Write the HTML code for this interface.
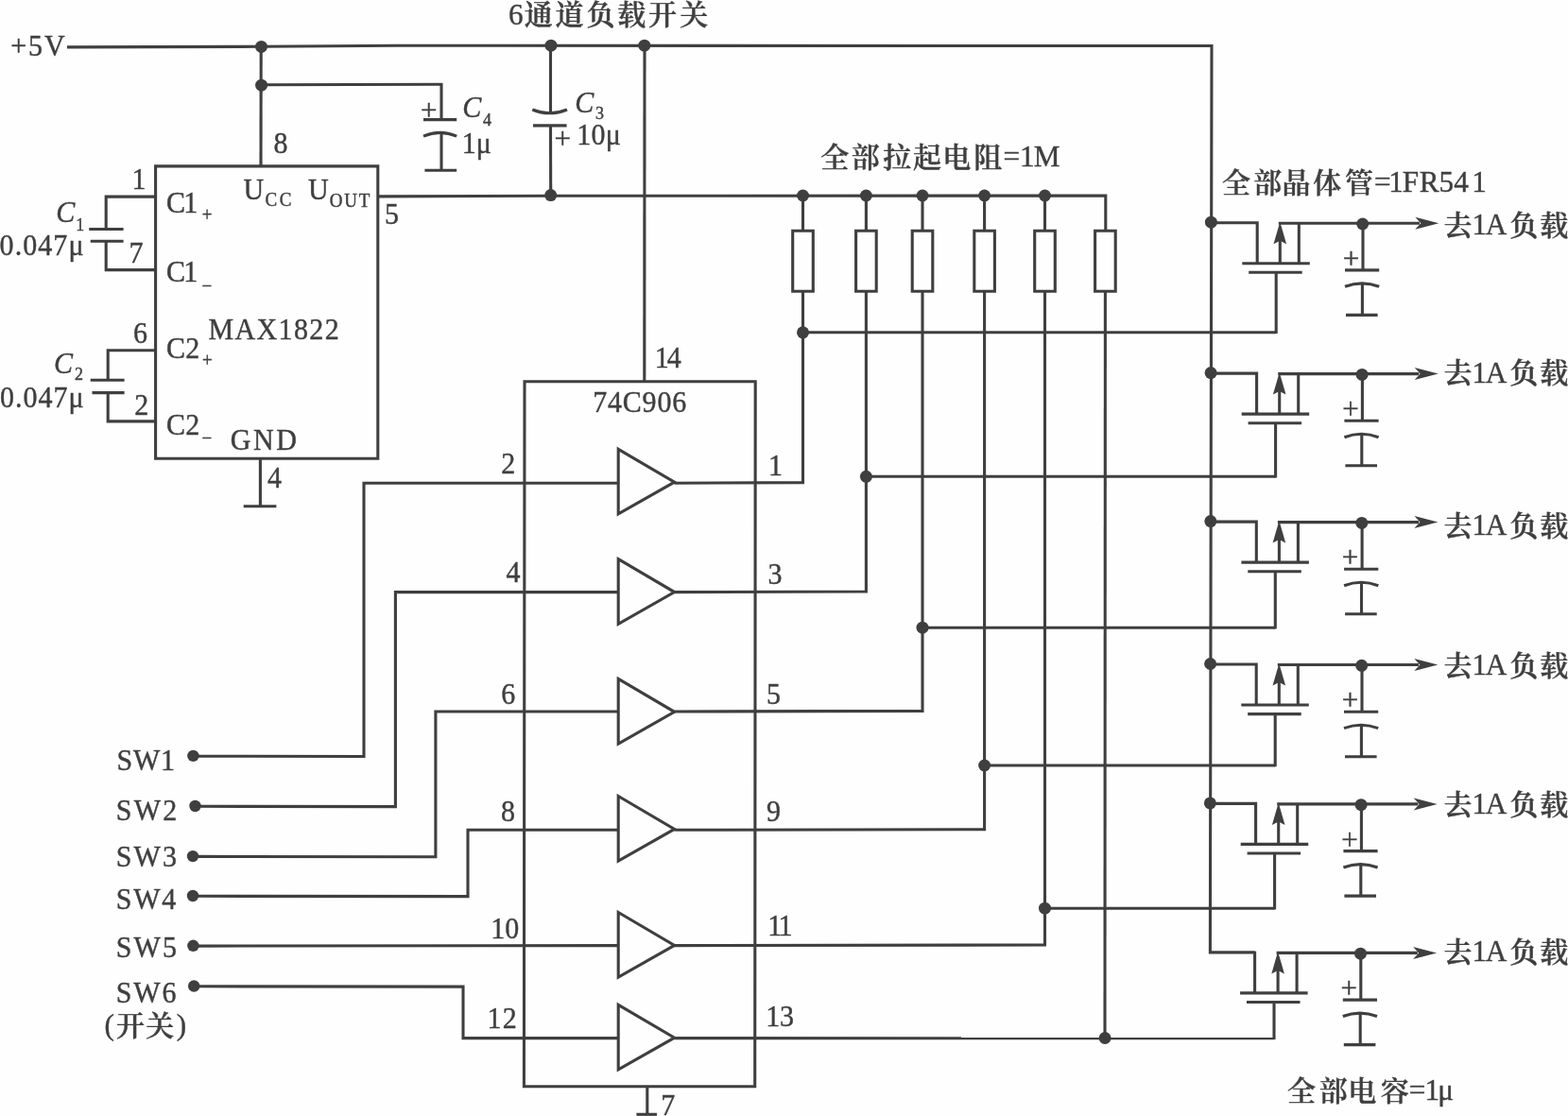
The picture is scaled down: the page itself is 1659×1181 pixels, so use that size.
<!DOCTYPE html>
<html lang="zh">
<head>
<meta charset="utf-8">
<title>6通道负载开关</title>
<style>
html,body{margin:0;padding:0;background:#fff;}
body{width:1659px;height:1181px;overflow:hidden;}
svg{display:block;will-change:transform;filter:blur(0.35px);}
svg path{fill:none;stroke:#3f3f3f;stroke-width:3.1;stroke-linecap:butt;stroke-linejoin:miter;}
svg path.th{stroke-width:1.7;}
svg .f{fill:#3f3f3f;stroke:none;}
svg text{font-family:"Liberation Serif","Noto Serif CJK SC",serif;font-size:30px;fill:#3f3f3f;stroke:#3f3f3f;stroke-width:0.4;}
svg .i{font-style:italic;}
svg .n{font-style:normal;}
svg .c{font-weight:600;}
svg .l{font-size:31.2px;}
</style>
</head>
<body>
<svg width="1659" height="1181" viewBox="0 0 1659 1181">
<rect x="0" y="0" width="1659" height="1181" fill="#fefefe"/>
<path d="M71 49.9 L276.5 49.3 L420 48.3 L1282 48.5 L1280.4 1007.9 L1327.6 1007.9"/>
<circle cx="276.5" cy="49.4" r="6.5" class="f"/>
<circle cx="276.6" cy="90.2" r="6.5" class="f"/>
<circle cx="583" cy="48.2" r="6.5" class="f"/>
<circle cx="681.8" cy="48.2" r="6.5" class="f"/>
<circle cx="582.7" cy="206.6" r="6.5" class="f"/>
<path d="M276.2 49.4 L276 175.4"/>
<path d="M276.5 89.8 L468 89.2"/>
<path d="M467 88 L467 126.6"/>
<path d="M448 126.6 L483.2 126.6"/>
<path d="M448 144.2 Q465.5 136.6 483.2 144.2"/>
<path d="M467 140.6 L467 180.3"/>
<path d="M449.4 180.3 L483.2 180.3"/>
<path d="M582.5 48.2 L582.5 119"/>
<path d="M563.3 116 Q581.5 123.6 600 116"/>
<path d="M564 132.9 L599.6 132.9"/>
<path d="M582.5 132.9 L582.7 207"/>
<path d="M682 48.3 L681.8 403.8"/>
<path d="M164.6 175.9 H399.8 V485.2 H164.6 Z"/>
<path d="M399.8 207.9 L582 207.3 L1169.8 207 L1169.8 244.2"/>
<path d="M164.6 208.1 L112.2 208.1 L112.2 242.5"/>
<path d="M94.2 242.5 L130.6 242.5"/>
<path d="M95.7 255.2 L130.6 255.2"/>
<path d="M112.2 255.2 L112.2 285.6 L164.6 285.6"/>
<path d="M164.6 370.8 L114.2 370.8 L114.2 402.2"/>
<path d="M95.7 402.2 L131.6 402.2"/>
<path d="M97.5 415.6 L131.6 415.6"/>
<path d="M114.2 415.6 L114.2 445.9 L164.6 445.9"/>
<path d="M275.4 485.2 L275.4 535.8"/>
<path d="M257.7 535.8 L292.4 535.8"/>
<path d="M555 403.8 H799.2 L798.7 1149.8 H554.4 Z"/>
<path d="M684.8 1149.8 L684.8 1179.5"/>
<path d="M673.4 1179.3 L695 1179.3"/>
<path d="M654.2 475.3 L713.6 510.2 L654.2 543.9 Z"/>
<path d="M654.2 591.7 L713.6 626.6 L654.2 660.3 Z"/>
<path d="M654.2 718.4 L713.6 753.3 L654.2 787 Z"/>
<path d="M654.2 842.5 L713.6 877.4 L654.2 911.1 Z"/>
<path d="M654.2 965.5 L713.6 1000.4 L654.2 1034.1 Z"/>
<path d="M654.2 1063.3 L713.6 1098.2 L654.2 1131.9 Z"/>
<circle cx="204.4" cy="799.9" r="6.2" class="f"/>
<path d="M204.4 800.2 L385 800.5 L385 511.2 L654.2 511.2"/>
<circle cx="206.5" cy="853" r="6.2" class="f"/>
<path d="M206.5 853.3 L418.4 853.6 L418.4 626.6 L654.2 626.6"/>
<circle cx="204" cy="906.1" r="6.2" class="f"/>
<path d="M204 906.4 L460.9 906.7 L460.9 753 L654.2 753"/>
<circle cx="204" cy="948" r="6.2" class="f"/>
<path d="M204 948.3 L495 948.6 L495 878.3 L654.2 878.3"/>
<circle cx="204.4" cy="1000.8" r="6.2" class="f"/>
<path d="M204.4 1001.1 L654.2 1000.6"/>
<circle cx="205.2" cy="1043.5" r="6.2" class="f"/>
<path d="M205.2 1043.8 L490 1044.1 L490 1098.6 L654.2 1098.6"/>
<circle cx="849.5" cy="207" r="6.5" class="f"/>
<path d="M849.5 207 L849.5 244.2"/>
<path d="M838.7 244.2 H860.3 V308.2 H838.7 Z"/>
<circle cx="916.4" cy="207" r="6.5" class="f"/>
<path d="M916.4 207 L916.4 244.2"/>
<path d="M905.6 244.2 H927.2 V308.2 H905.6 Z"/>
<circle cx="976" cy="207" r="6.5" class="f"/>
<path d="M976 207 L976 244.2"/>
<path d="M965.2 244.2 H986.8 V308.2 H965.2 Z"/>
<circle cx="1041.6" cy="207" r="6.5" class="f"/>
<path d="M1041.6 207 L1041.6 244.2"/>
<path d="M1030.8 244.2 H1052.4 V308.2 H1030.8 Z"/>
<circle cx="1105.5" cy="207" r="6.5" class="f"/>
<path d="M1105.5 207 L1105.5 244.2"/>
<path d="M1094.7 244.2 H1116.3 V308.2 H1094.7 Z"/>
<path d="M1158.6 244.2 H1180.2 V308.2 H1158.6 Z"/>
<path d="M713.6 511.2 L849.5 510.6 L849.5 308.2"/>
<path d="M849.5 351.8 L1350.2 351.8"/>
<circle cx="849.5" cy="351.8" r="6.5" class="f"/>
<path d="M713.6 626.6 L916.4 626 L916.4 308.2"/>
<path d="M916.4 504.3 L1349.6 504.3"/>
<circle cx="916.4" cy="504.3" r="6.5" class="f"/>
<path d="M713.6 753 L976 752.4 L976 308.2"/>
<path d="M976 664.2 L1349.3 664.2"/>
<circle cx="976" cy="664.2" r="6.5" class="f"/>
<path d="M713.6 878.3 L1041.6 877.7 L1041.6 308.2"/>
<path d="M1041.6 810 L1349.2 810"/>
<circle cx="1041.6" cy="810" r="6.5" class="f"/>
<path d="M713.6 1000.6 L1105.5 1000 L1105.5 308.2"/>
<path d="M1105.5 961.2 L1348.6 961.2"/>
<circle cx="1105.5" cy="961.2" r="6.5" class="f"/>
<path d="M1169.4 308.2 L1169 1098.8"/>
<path d="M713.6 1098.6 L1348 1098.8"/>
<circle cx="1169.1" cy="1098.5" r="6.5" class="f"/>
<circle cx="1281.39" cy="235.2" r="6.5" class="f"/>
<path d="M1281.69 235.7 L1330.2 235.7 L1330.2 278.7"/>
<path d="M1314.3 278.7 L1385.8 278.7"/>
<path d="M1321.2 288.3 L1377.7 288.3"/>
<path d="M1350.2 288.3 L1350.2 353"/>
<path d="M1354.3 278.7 L1354.3 243.7"/>
<path d="M1354.3 234.7 L1361.1 258.2 L1354.3 254.7 L1347.5 258.2 Z" class="f"/>
<path d="M1374.3 236.2 L1374.3 278.7"/>
<path d="M1352.8 236.2 L1502 236.2"/>
<path d="M1522.3 236.2 L1497.3 229.7 L1503.3 236.2 L1497.3 242.7 Z" class="f"/>
<circle cx="1441.7" cy="237" r="6.5" class="f"/>
<path d="M1442 236.2 L1442 285.9"/>
<path d="M1423 285.9 L1459.2 285.9"/>
<path d="M1423 303.3 Q1441 296.5 1459.2 303.3"/>
<path d="M1441.4 300.1 L1441.4 333.4"/>
<path d="M1424 333.4 L1457.6 333.4"/>
<text transform="scale(1,1.05)" x="1420.74" y="270.52" class="t" style="font-size:31px">+</text>
<circle cx="1281.12" cy="394.6" r="6.5" class="f"/>
<path d="M1281.42 395.1 L1329.6 395.1 L1329.6 438.1"/>
<path d="M1313.7 438.1 L1385.2 438.1"/>
<path d="M1320.6 447.7 L1377.1 447.7"/>
<path d="M1349.6 447.7 L1349.6 505.5"/>
<path d="M1353.7 438.1 L1353.7 403.1"/>
<path d="M1353.7 394.1 L1360.5 417.6 L1353.7 414.1 L1346.9 417.6 Z" class="f"/>
<path d="M1373.7 395.6 L1373.7 438.1"/>
<path d="M1352.2 395.6 L1501.4 395.6"/>
<path d="M1521.7 395.6 L1496.7 389.1 L1502.7 395.6 L1496.7 402.1 Z" class="f"/>
<circle cx="1441.1" cy="396.4" r="6.5" class="f"/>
<path d="M1441.4 395.6 L1441.4 445.3"/>
<path d="M1422.4 445.3 L1458.6 445.3"/>
<path d="M1422.4 462.7 Q1440.4 455.9 1458.6 462.7"/>
<path d="M1440.8 459.5 L1440.8 492.8"/>
<path d="M1423.4 492.8 L1457 492.8"/>
<text transform="scale(1,1.05)" x="1420.14" y="422.33" class="t" style="font-size:31px">+</text>
<circle cx="1280.86" cy="551.6" r="6.5" class="f"/>
<path d="M1281.16 552.1 L1329.3 552.1 L1329.3 595.1"/>
<path d="M1313.4 595.1 L1384.9 595.1"/>
<path d="M1320.3 604.7 L1376.8 604.7"/>
<path d="M1349.3 604.7 L1349.3 665.4"/>
<path d="M1353.4 595.1 L1353.4 560.1"/>
<path d="M1353.4 551.1 L1360.2 574.6 L1353.4 571.1 L1346.6 574.6 Z" class="f"/>
<path d="M1373.4 552.6 L1373.4 595.1"/>
<path d="M1351.9 552.6 L1501.1 552.6"/>
<path d="M1521.4 552.6 L1496.4 546.1 L1502.4 552.6 L1496.4 559.1 Z" class="f"/>
<circle cx="1440.8" cy="553.4" r="6.5" class="f"/>
<path d="M1441.1 552.6 L1441.1 602.3"/>
<path d="M1422.1 602.3 L1458.3 602.3"/>
<path d="M1422.1 619.7 Q1440.1 612.9 1458.3 619.7"/>
<path d="M1440.5 616.5 L1440.5 649.8"/>
<path d="M1423.1 649.8 L1456.7 649.8"/>
<text transform="scale(1,1.05)" x="1419.84" y="571.85" class="t" style="font-size:31px">+</text>
<circle cx="1280.61" cy="702.5" r="6.5" class="f"/>
<path d="M1280.91 703 L1329.2 703 L1329.2 746"/>
<path d="M1313.3 746 L1384.8 746"/>
<path d="M1320.2 755.6 L1376.7 755.6"/>
<path d="M1349.2 755.6 L1349.2 811.2"/>
<path d="M1353.3 746 L1353.3 711"/>
<path d="M1353.3 702 L1360.1 725.5 L1353.3 722 L1346.5 725.5 Z" class="f"/>
<path d="M1373.3 703.5 L1373.3 746"/>
<path d="M1351.8 703.5 L1501 703.5"/>
<path d="M1521.3 703.5 L1496.3 697 L1502.3 703.5 L1496.3 710 Z" class="f"/>
<circle cx="1440.7" cy="704.3" r="6.5" class="f"/>
<path d="M1441 703.5 L1441 753.2"/>
<path d="M1422 753.2 L1458.2 753.2"/>
<path d="M1422 770.6 Q1440 763.8 1458.2 770.6"/>
<path d="M1440.4 767.4 L1440.4 800.7"/>
<path d="M1423 800.7 L1456.6 800.7"/>
<text transform="scale(1,1.05)" x="1419.74" y="715.56" class="t" style="font-size:31px">+</text>
<circle cx="1280.36" cy="849.9" r="6.5" class="f"/>
<path d="M1280.66 850.4 L1328.6 850.4 L1328.6 893.4"/>
<path d="M1312.7 893.4 L1384.2 893.4"/>
<path d="M1319.6 903 L1376.1 903"/>
<path d="M1348.6 903 L1348.6 962.4"/>
<path d="M1352.7 893.4 L1352.7 858.4"/>
<path d="M1352.7 849.4 L1359.5 872.9 L1352.7 869.4 L1345.9 872.9 Z" class="f"/>
<path d="M1372.7 850.9 L1372.7 893.4"/>
<path d="M1351.2 850.9 L1500.4 850.9"/>
<path d="M1520.7 850.9 L1495.7 844.4 L1501.7 850.9 L1495.7 857.4 Z" class="f"/>
<circle cx="1440.1" cy="851.7" r="6.5" class="f"/>
<path d="M1440.4 850.9 L1440.4 900.6"/>
<path d="M1421.4 900.6 L1457.6 900.6"/>
<path d="M1421.4 918 Q1439.4 911.2 1457.6 918"/>
<path d="M1439.8 914.8 L1439.8 948.1"/>
<path d="M1422.4 948.1 L1456 948.1"/>
<text transform="scale(1,1.05)" x="1419.14" y="855.94" class="t" style="font-size:31px">+</text>
<path d="M1327.6 1006.7 L1327.6 1050.9"/>
<path d="M1312.1 1050.9 L1383.6 1050.9"/>
<path d="M1319 1060.5 L1375.5 1060.5"/>
<path d="M1348 1060.5 L1348 1100"/>
<path d="M1352.1 1050.9 L1352.1 1015.9"/>
<path d="M1352.1 1006.9 L1358.9 1030.4 L1352.1 1026.9 L1345.3 1030.4 Z" class="f"/>
<path d="M1372.1 1008.4 L1372.1 1050.9"/>
<path d="M1350.6 1008.4 L1499.8 1008.4"/>
<path d="M1520.1 1008.4 L1495.1 1001.9 L1501.1 1008.4 L1495.1 1014.9 Z" class="f"/>
<circle cx="1439.5" cy="1009.2" r="6.5" class="f"/>
<path d="M1439.8 1008.4 L1439.8 1058.1"/>
<path d="M1420.8 1058.1 L1457 1058.1"/>
<path d="M1420.8 1075.5 Q1438.8 1068.7 1457 1075.5"/>
<path d="M1439.2 1072.3 L1439.2 1105.6"/>
<path d="M1421.8 1105.6 L1455.4 1105.6"/>
<text transform="scale(1,1.05)" x="1418.54" y="1005.94" class="t" style="font-size:31px">+</text>
<text transform="scale(1,1.05)" x="444.94" y="121.09" class="t" style="font-size:31px">+</text>
<text transform="scale(1,1.05)" x="586.44" y="149.56" class="t" style="font-size:31px">+</text>
<text x="538 554.8 587.55 620.45 653.35 686.1 719.25" y="25.6 26.4 26.4 26.4 26.4 26.4 26.4" class="t"><tspan class="l">6</tspan><tspan class="c">通道负载开关</tspan></text>
<text transform="scale(1,1.05)" x="11.2 30.11 47.1" y="55.9" class="t">+5V</text>
<text transform="scale(1,1.05)" x="289.4" y="154.29" class="t">8</text>
<text transform="scale(1,1.05)" x="139.5" y="190.48" class="t">1</text>
<text transform="scale(1,1.05)" x="136.55" y="265.24" class="t">7</text>
<text transform="scale(1,1.05)" x="140.95" y="345.9" class="t">6</text>
<text transform="scale(1,1.05)" x="142.15" y="418.19" class="t">2</text>
<text transform="scale(1,1.05)" x="407.1" y="225.43" class="t">5</text>
<text transform="scale(1,1.05)" x="282.9" y="491.52" class="t">4</text>
<text transform="scale(1,1.05)" x="692.8 705.75" y="370.86" class="t">14</text>
<text transform="scale(1,1.05)" x="699.35" y="1124.29" class="t">7</text>
<text transform="scale(1,1.05)" x="176 194.3 213.65" y="214.57 214.57 222.48" class="t">C1<tspan style="font-size:19px">+</tspan></text>
<text transform="scale(1,1.05)" x="176 194.3 213.45" y="283.62 283.62 294.29" class="t">C1<tspan style="font-size:19px">−</tspan></text>
<text transform="scale(1,1.05)" x="176 196.15 214.05" y="361.33 361.33 369.52" class="t">C2<tspan style="font-size:19px">+</tspan></text>
<text transform="scale(1,1.05)" x="176 196.15 213.45" y="438 438 448" class="t">C2<tspan style="font-size:19px">−</tspan></text>
<text transform="scale(1,1.05)" x="257.6 280.44 295.81" y="200.57 207.33 207.33" class="t">U<tspan style="font-size:19px">CC</tspan></text>
<text transform="scale(1,1.05)" x="326 348.84 364.27 379.7" y="200.57 208.19 208.19 208.19" class="t">U<tspan style="font-size:19px">OUT</tspan></text>
<text transform="scale(1,1.05)" x="220.6 248.61 271.62 294.63 310.97 327.31 343.65" y="341.52" class="t">MAX1822</text>
<text transform="scale(1,1.05)" x="243.8 268.05 292.3" y="453.62" class="t">GND</text>
<text transform="scale(1,1.05)" x="627.15 642.96 658.77 679.58 695.39 711.2" y="415.43" class="t">74C906</text>
<text transform="scale(1,1.05)" x="59.15 80.38" y="224.19 232.67" class="t i">C<tspan class="n" style="font-size:18px">1</tspan></text>
<text transform="scale(1,1.05)" x="57.05 78.89" y="376 382.48" class="t i">C<tspan class="n" style="font-size:18px">2</tspan></text>
<text transform="scale(1,1.05)" x="489.35 511.04" y="118.1 126.67" class="t i">C<tspan class="n" style="font-size:18px">4</tspan></text>
<text transform="scale(1,1.05)" x="608.35 630.1" y="113.33 120" class="t i">C<tspan class="n" style="font-size:18px">3</tspan></text>
<text transform="scale(1,1.05)" x="-0.4 15.67 24.24 40.31 56.38 72.45" y="256.76" class="t">0.047μ</text>
<text transform="scale(1,1.05)" x="0.1 16.07 24.54 40.51 56.48 72.45" y="410.29" class="t">0.047μ</text>
<text transform="scale(1,1.05)" x="488.8 503.65" y="154.29" class="t">1μ</text>
<text transform="scale(1,1.05)" x="610.3 625.57 640.85" y="145.43" class="t">10μ</text>
<text transform="scale(1,1.05)" x="530.25" y="477.62" class="t">2</text>
<text transform="scale(1,1.05)" x="535.6" y="587.14" class="t">4</text>
<text transform="scale(1,1.05)" x="530.25" y="709.81" class="t">6</text>
<text transform="scale(1,1.05)" x="529.9" y="828" class="t">8</text>
<text transform="scale(1,1.05)" x="519.3 534.3" y="946.1" class="t">10</text>
<text transform="scale(1,1.05)" x="515.6 531.75" y="1036.48" class="t">12</text>
<text transform="scale(1,1.05)" x="812.9" y="479.33" class="t">1</text>
<text transform="scale(1,1.05)" x="812.4" y="588.57" class="t">3</text>
<text transform="scale(1,1.05)" x="810.9" y="709.14" class="t">5</text>
<text transform="scale(1,1.05)" x="811" y="828" class="t">9</text>
<text transform="scale(1,1.05)" x="812.3 823.6" y="943.24" class="t">11</text>
<text transform="scale(1,1.05)" x="810.3 824.9" y="1034.1" class="t">13</text>
<text transform="scale(1,1.05)" x="123.45 140.91 170" y="776.19" class="t">SW1</text>
<text transform="scale(1,1.05)" x="122.75 141.74 172.35" y="826.86" class="t">SW2</text>
<text transform="scale(1,1.05)" x="122.75 141.51 171.9" y="873.62" class="t">SW3</text>
<text transform="scale(1,1.05)" x="122.75 141.14 171.15" y="916.1" class="t">SW4</text>
<text transform="scale(1,1.05)" x="122.75 141.51 171.9" y="964.29" class="t">SW5</text>
<text transform="scale(1,1.05)" x="122.75 141.36 171.6" y="1010.19" class="t">SW6</text>
<text x="110.4 123 154.25 186.66" y="1095.4 1096.2 1096.2 1095.4" class="t"><tspan class="l">(</tspan><tspan class="c">开关</tspan><tspan class="l">)</tspan></text>
<text x="868.35 900.8 934.15 965.9 997.25 1030.15 1061.44 1078.99 1093.76" y="177.1 177.1 177.1 177.1 177.1 177.1 176.3 176.3 176.3" class="t"><tspan class="c">全部拉起电阻</tspan><tspan class="l">=1M</tspan></text>
<text x="1292.95 1326.3 1356.4 1389.3 1423.1 1454.04 1469.19 1483.66 1501.76 1522.53 1538.28 1557.29" y="204.2 204.2 204.2 204.2 204.2 203.4 203.4 203.4 203.4 203.4 203.4 203.4" class="t"><tspan class="c">全部晶体管</tspan><tspan class="l">=1FR541</tspan></text>
<text x="1527.55 1557.49 1571.69 1597.15 1629.15" y="248.6 247.8 247.8 248.6 248.6" class="t"><tspan class="c">去</tspan><tspan class="l">1A</tspan><tspan class="c">负载</tspan></text>
<text x="1527.55 1557.49 1571.69 1597.15 1629.15" y="405.4 404.6 404.6 405.4 405.4" class="t"><tspan class="c">去</tspan><tspan class="l">1A</tspan><tspan class="c">负载</tspan></text>
<text x="1527.55 1557.49 1571.69 1597.15 1629.15" y="566.7 565.9 565.9 566.7 566.7" class="t"><tspan class="c">去</tspan><tspan class="l">1A</tspan><tspan class="c">负载</tspan></text>
<text x="1527.55 1557.49 1571.69 1597.15 1629.15" y="714.8 714 714 714.8 714.8" class="t"><tspan class="c">去</tspan><tspan class="l">1A</tspan><tspan class="c">负载</tspan></text>
<text x="1527.55 1557.49 1571.69 1597.15 1629.15" y="861.7 860.9 860.9 861.7 861.7" class="t"><tspan class="c">去</tspan><tspan class="l">1A</tspan><tspan class="c">负载</tspan></text>
<text x="1527.55 1557.49 1571.69 1597.15 1629.15" y="1018 1017.2 1017.2 1018 1018" class="t"><tspan class="c">去</tspan><tspan class="l">1A</tspan><tspan class="c">负载</tspan></text>
<text x="1361.95 1395.7 1426.35 1460.75 1490.64 1507.49 1521.3" y="1165.1 1165.1 1165.1 1165.1 1164.3 1164.3 1164.3" class="t"><tspan class="c">全部电容</tspan><tspan class="l">=1μ</tspan></text>
</svg>
</body>
</html>
